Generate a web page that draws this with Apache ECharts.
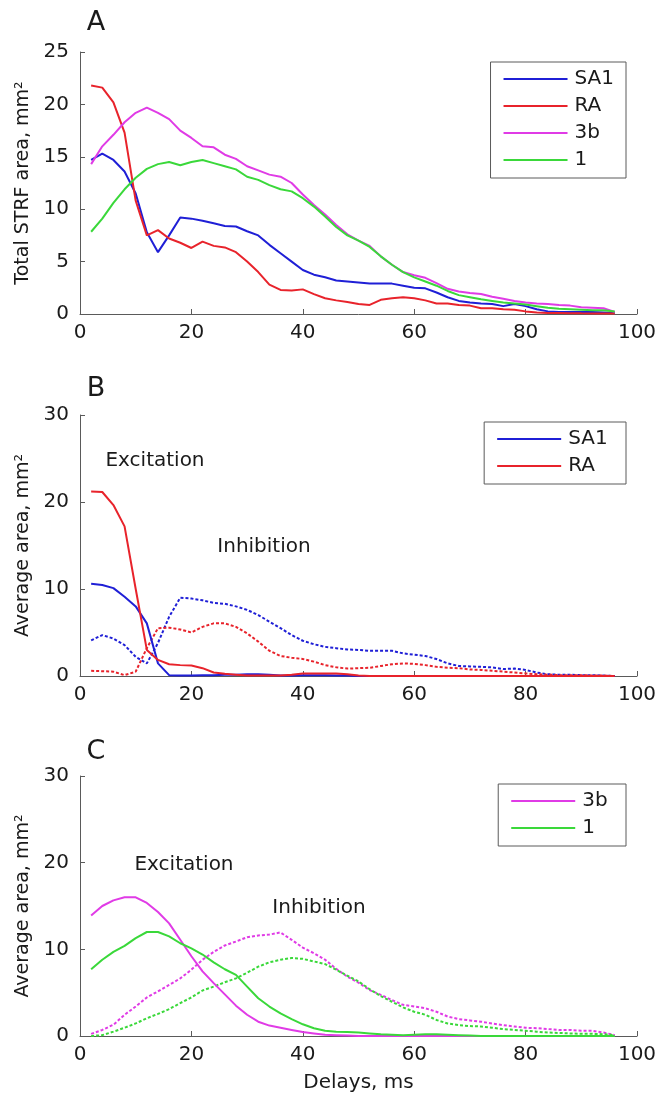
<!DOCTYPE html>
<html>
<head>
<meta charset="utf-8">
<script src="https://cdn.jsdelivr.net/npm/echarts@6/dist/echarts.min.js"></script>
<style>
html,body{margin:0;padding:0;background:#fff;}
#chart{width:661px;height:1094px;}
</style>
</head>
<body>
<div id="chart"></div>
<script>
// ---- data ----
const delays = [2,4,6,8,10,12,14,16,18,20,22,24,26,28,30,32,34,36,38,40,42,44,46,48,50,52,54,56,58,60,62,64,66,68,70,72,74,76,78,80,82,84,86,88,90,92,94,96];
const xTicks = [0,20,40,60,80,100];

// Panel A: total STRF area
const A_SA1 = [14.7,15.3,14.7,13.6,11.5,7.8,5.9,7.5,9.2,9.1,8.9,8.65,8.4,8.35,7.9,7.5,6.6,5.8,5.0,4.2,3.75,3.5,3.2,3.1,3.0,2.9,2.9,2.9,2.7,2.5,2.45,2.05,1.6,1.25,1.1,1.0,0.95,0.75,0.95,0.75,0.45,0.25,0.2,0.2,0.2,0.2,0.15,0.1];
const A_RA  = [21.8,21.6,20.2,17.3,10.8,7.5,8.0,7.2,6.8,6.3,6.9,6.5,6.35,5.9,5.0,4.0,2.8,2.3,2.25,2.35,1.9,1.5,1.3,1.15,0.95,0.87,1.35,1.5,1.6,1.5,1.3,1.0,1.0,0.85,0.8,0.55,0.55,0.45,0.4,0.25,0.15,0.1,0.1,0.08,0.06,0.05,0.05,0.05];
const A_3b  = [14.3,16.0,17.1,18.3,19.2,19.7,19.2,18.6,17.5,16.8,16.0,15.9,15.2,14.8,14.1,13.7,13.3,13.1,12.5,11.4,10.4,9.5,8.5,7.6,7.0,6.5,5.5,4.7,4.0,3.7,3.45,2.95,2.4,2.15,2.0,1.9,1.65,1.45,1.25,1.1,1.0,0.95,0.85,0.8,0.65,0.6,0.55,0.2];
const A_1   = [7.85,9.1,10.6,11.9,13.0,13.85,14.3,14.5,14.2,14.5,14.7,14.4,14.1,13.8,13.1,12.8,12.3,11.9,11.7,11.05,10.25,9.3,8.3,7.5,7.0,6.4,5.5,4.7,4.0,3.5,3.1,2.7,2.2,1.8,1.6,1.4,1.25,1.1,1.0,0.9,0.75,0.6,0.5,0.45,0.4,0.35,0.35,0.25];

// Panel B: SA1 / RA excitation (solid) and inhibition (dotted)
const B_SA1_exc = [10.6,10.45,10.1,9.1,8.0,6.05,1.45,0.1,0.05,0.05,0.1,0.1,0.15,0.15,0.2,0.2,0.15,0.05,0.05,0.1,0.1,0.1,0.05,0.05,0,0,0,0,0,0,0,0,0,0,0,0,0,0,0,0,0,0,0,0,0,0,0,0];
const B_RA_exc  = [21.2,21.15,19.65,17.2,10.0,3.0,1.85,1.35,1.25,1.2,0.9,0.4,0.25,0.15,0.05,0.05,0.05,0.05,0.15,0.3,0.3,0.3,0.3,0.2,0.05,0,0,0,0,0,0,0,0,0,0,0,0,0,0,0,0,0,0,0,0,0,0,0];
const B_SA1_inh = [4.1,4.7,4.3,3.55,2.2,1.45,3.8,6.8,9.0,8.9,8.7,8.4,8.3,8.0,7.6,7.0,6.25,5.5,4.7,4.05,3.65,3.35,3.2,3.05,3.0,2.9,2.9,2.9,2.6,2.45,2.3,1.95,1.45,1.15,1.1,1.05,1.0,0.8,0.85,0.7,0.4,0.2,0.15,0.15,0.1,0.1,0.05,0.0];
const B_RA_inh  = [0.6,0.55,0.5,0.1,0.5,3.2,5.5,5.55,5.35,5.0,5.65,6.05,6.05,5.65,4.9,3.95,2.9,2.3,2.1,1.95,1.65,1.25,1.0,0.85,0.9,0.95,1.15,1.35,1.45,1.4,1.25,1.05,0.95,0.9,0.75,0.7,0.6,0.5,0.4,0.3,0.2,0.15,0.1,0.1,0.1,0.05,0.05,0];

// Panel C: 3b / 1 excitation (solid) and inhibition (dotted)
const C_3b_exc = [13.9,15.0,15.65,16.0,16.0,15.35,14.3,13.0,11.1,9.2,7.45,6.1,4.8,3.5,2.45,1.65,1.2,0.95,0.7,0.45,0.3,0.15,0.1,0.05,0,0,0,0,0,0,0,0,0,0,0,0,0,0,0,0,0,0,0,0,0,0,0,0];
const C_1_exc  = [7.7,8.8,9.7,10.4,11.3,12.0,12.0,11.5,10.7,10.1,9.4,8.5,7.7,7.05,5.7,4.35,3.4,2.6,1.95,1.35,0.9,0.6,0.5,0.45,0.4,0.3,0.2,0.15,0.1,0.15,0.2,0.2,0.15,0.1,0.05,0,0,0,0,0,0,0,0,0,0,0,0,0];
const C_3b_inh = [0.25,0.7,1.3,2.45,3.4,4.45,5.15,5.9,6.65,7.65,8.8,9.7,10.45,10.9,11.4,11.6,11.7,11.95,11.1,10.2,9.55,8.8,7.75,6.85,6.15,5.3,4.75,4.15,3.6,3.4,3.2,2.8,2.25,1.95,1.8,1.65,1.45,1.25,1.1,0.95,0.9,0.8,0.7,0.7,0.6,0.6,0.4,0.1];
const C_1_inh  = [0.0,0.1,0.5,0.95,1.45,2.05,2.55,3.1,3.8,4.45,5.25,5.7,6.2,6.65,7.3,8.0,8.5,8.8,9.0,8.9,8.6,8.3,7.65,6.95,6.3,5.4,4.6,3.95,3.3,2.8,2.45,1.85,1.45,1.25,1.15,1.1,0.95,0.8,0.7,0.6,0.5,0.4,0.35,0.3,0.25,0.25,0.2,0.1];

// ---- styling ----
const FONT = 'DejaVu Sans';
const TXT = '#1a1a1a';
const AX = '#5a5a5a';
const BLUE = '#1f1fd6', RED = '#e8232b', MAG = '#e03be6', GRN = '#3ad83a';

function pairs(vals){ return delays.map((t,i)=>[t, vals[i]]); }

function line(name, vals, color, idx, dotted){
  return {
    name, type:'line', xAxisIndex: idx, yAxisIndex: idx,
    data: pairs(vals), symbol:'none', smooth:false, silent:true,
    itemStyle:{color},
    lineStyle:{color, width:2, type: dotted ? [3,2] : 'solid'},
    z: dotted ? 2 : 3
  };
}

const grids = [
  {left:80, right:24, top:52, height:262},
  {left:80, right:24, top:415, height:261},
  {left:80, right:24, top:776, height:261}
];

function xAxis(i, withName){
  return {
    type:'value', gridIndex:i, min:0, max:100, interval:20,
    axisLine:{show:true, lineStyle:{color:AX, width:1}},
    axisTick:{show:true, inside:true, length:5, lineStyle:{color:AX}},
    axisLabel:{fontFamily:FONT, fontSize:20, color:TXT, margin:9},
    splitLine:{show:false},
    name: withName ? 'Delays, ms' : '',
    nameLocation:'middle', nameGap:37,
    nameTextStyle:{fontFamily:FONT, fontSize:20, color:TXT}
  };
}
function yAxis(i, max, interval, name){
  return {
    type:'value', gridIndex:i, min:0, max, interval,
    axisLine:{show:true, lineStyle:{color:AX, width:1}},
    axisTick:{show:true, inside:true, length:5, lineStyle:{color:AX}},
    axisLabel:{fontFamily:FONT, fontSize:20, color:TXT, margin:11},
    splitLine:{show:false},
    name, nameLocation:'middle', nameGap:41,
    nameTextStyle:{fontFamily:FONT, fontSize:19, color:TXT}
  };
}

function legend(top, names){
  return {
    data: names, orient:'vertical', right:35, top,
    icon:'rect', itemWidth:64, itemHeight:2, itemGap:7,
    padding:[7,12,8,13],
    borderColor:AX, borderWidth:1, backgroundColor:'#fff',
    selectedMode:false,
    textStyle:{fontFamily:FONT, fontSize:20, color:TXT, lineHeight:20, padding:[0,0,0,2]}
  };
}

function label(text, x, y, size){
  return {type:'text', x, y, silent:true,
    style:{text, font: size + 'px "' + FONT + '"', fill:TXT, align:'center', verticalAlign:'middle'}};
}

const option = {
  backgroundColor:'#fff',
  animation:false,
  grid: grids,
  xAxis: [xAxis(0,false), xAxis(1,false), xAxis(2,true)],
  yAxis: [
    yAxis(0, 25, 5, 'Total STRF area, mm²'),
    yAxis(1, 30, 10, 'Average area, mm²'),
    yAxis(2, 30, 10, 'Average area, mm²')
  ],
  legend: [
    legend(62, ['SA1','RA','3b','1']),
    legend(422, ['SA1 ','RA ']),
    legend(784, ['3b ','1 '])
  ],
  series: [
    line('SA1', A_SA1, BLUE, 0, false),
    line('RA', A_RA, RED, 0, false),
    line('3b', A_3b, MAG, 0, false),
    line('1', A_1, GRN, 0, false),
    line('SA1 inhibition', B_SA1_inh, BLUE, 1, true),
    line('RA inhibition', B_RA_inh, RED, 1, true),
    line('SA1 ', B_SA1_exc, BLUE, 1, false),
    line('RA ', B_RA_exc, RED, 1, false),
    line('3b inhibition', C_3b_inh, MAG, 2, true),
    line('1 inhibition', C_1_inh, GRN, 2, true),
    line('3b ', C_3b_exc, MAG, 2, false),
    line('1 ', C_1_exc, GRN, 2, false)
  ],
  graphic: [
    label('A', 96, 23, 27),
    label('B', 96, 389, 27),
    label('C', 96, 752, 27),
    label('Excitation', 155, 461, 20),
    label('Inhibition', 264, 547, 20),
    label('Excitation', 184, 865, 20),
    label('Inhibition', 319, 908, 20)
  ]
};

const chart = echarts.init(document.getElementById('chart'), null, {renderer:'canvas'});
chart.setOption(option);
</script>
</body>
</html>
